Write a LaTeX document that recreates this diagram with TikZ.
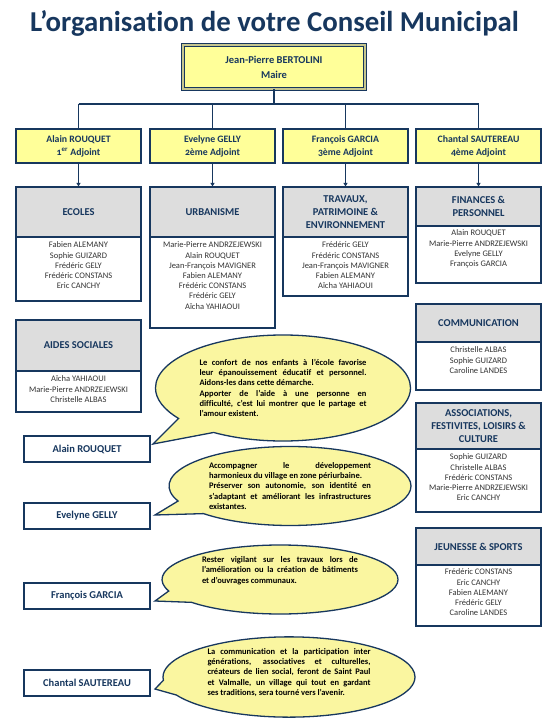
\documentclass[tikz,border=0pt]{standalone}
\usepackage{fontspec}
\setmainfont{Carlito}[Numbers=OldStyle, Ligatures={NoCommon,NoContextual}]
\usetikzlibrary{shapes.callouts,calc,arrows.meta}
\definecolor{navy}{HTML}{17375E}
\definecolor{hdr}{HTML}{DDDDDD}
\definecolor{yel}{HTML}{FFFF99}
\definecolor{cyel}{HTML}{FAF6A0}
\definecolor{txt}{HTML}{333333}
\hyphenpenalty=10000
\exhyphenpenalty=10000
\tikzset{
  every node/.style={inner sep=0pt, outer sep=0pt},
  mairebox/.style={draw=navy, line width=1pt, double=yel!55!gray, double distance=1.2pt, fill=yel,
    minimum width=182pt, minimum height=44pt, align=center,
    font=\bfseries\fontsize{10.5}{15}\selectfont, text=navy},
  adjbox/.style={draw=navy, line width=1.3pt, fill=yel, minimum width=125pt, minimum height=34pt,
    align=center, font=\bfseries\fontsize{9.8}{13}\selectfont, text=navy},
  hdrbox/.style={draw=navy, line width=1.3pt, fill=hdr, minimum width=125pt, align=center,
    font=\bfseries\fontsize{10.5}{13}\selectfont, text=navy, anchor=north west},
  bodybox/.style={draw=navy, line width=1.3pt, fill=white, minimum width=125pt, anchor=north west},
  members/.style={align=center, font=\fontsize{8.5}{10.2}\selectfont, text=txt, anchor=north},
  namebox/.style={draw=navy, line width=1.3pt, fill=white, minimum width=126pt, minimum height=26pt,
    anchor=north west, font=\bfseries\fontsize{10.5}{13}\selectfont, text=navy},
  bubble/.style={ellipse callout, draw=navy, line width=1.3pt, fill=cyel, callout pointer arc=22,
    align=justify, font=\bfseries\fontsize{8.5}{10.2}\selectfont, text=black},
  link/.style={draw=navy, line width=1.2pt},
  arr/.style={link, -{Latex[length=4pt,width=4.5pt]}},
}
\begin{document}
\begin{tikzpicture}[x=1pt,y=-1pt]
\fill[white] (0,0) rectangle (550,719);
\useasboundingbox (0,0) rectangle (550,719);

\node[anchor=base, font=\bfseries\fontsize{28.8}{32}\selectfont, text=navy] (title) at (274.5,32)
  {L’organisation de votre Conseil Municipal};

\node[mairebox] (maire) at (274,67) {Jean-Pierre BERTOLINI\\Maire};

\node[adjbox] (a1) at (78.5,146) {Alain ROUQUET\\1\textsuperscript{er} Adjoint};
\node[adjbox] (a2) at (212.5,146) {Evelyne GELLY\\2ème Adjoint};
\node[adjbox] (a3) at (345.5,146) {François GARCIA\\3ème Adjoint};
\node[adjbox] (a4) at (478.5,146) {Chantal SAUTEREAU\\4ème Adjoint};

\coordinate (busL) at ($(a1.north)+(0,-25)$);
\coordinate (busR) at ($(a4.north)+(0,-25)$);
\draw[link] (maire.south) -- (maire.south |- busL);
\draw[link] (busL) -- (busR);
\foreach \i in {1,...,4} {\draw[link] (a\i.north |- busL) -- (a\i.north);}

% commissions
\node[hdrbox, minimum height=50pt] (h1) at (16,187) {ECOLES};
\node[bodybox, minimum height=64pt] (b1) at (h1.south west) {};
\node[members] (m1) at ($(h1.south)+(0,5)$) {Fabien ALEMANY\\Sophie GUIZARD\\Frédéric GELY\\Frédéric CONSTANS\\Eric CANCHY};

\node[hdrbox, minimum height=50pt] (h2) at (150,187) {URBANISME};
\node[bodybox, minimum height=91pt] (b2) at (h2.south west) {};
\node[members] (m2) at ($(h2.south)+(0,5)$) {Marie-Pierre ANDRZEJEWSKI\\Alain ROUQUET\\Jean-François MAVIGNER\\Fabien ALEMANY\\Frédéric CONSTANS\\Frédéric GELY\\Aïcha YAHIAOUI};

\node[hdrbox, minimum height=50pt] (h3) at (283,187) {TRAVAUX,\\PATRIMOINE \&\\ENVIRONNEMENT};
\node[bodybox, minimum height=59pt] (b3) at (h3.south west) {};
\node[members] (m3) at ($(h3.south)+(0,5)$) {Frédéric GELY\\Frédéric CONSTANS\\Jean-François MAVIGNER\\Fabien ALEMANY\\Aïcha YAHIAOUI};

\node[hdrbox, minimum height=39pt] (h4) at (416,187) {FINANCES \&\\PERSONNEL};
\node[bodybox, minimum height=57pt] (b4) at (h4.south west) {};
\node[members] (m4) at ($(h4.south)+(0,4)$) {Alain ROUQUET\\Marie-Pierre ANDRZEJEWSKI\\Evelyne GELLY\\François GARCIA};

\foreach \i in {1,...,4} {\draw[arr] (a\i.south -| h\i.north) -- (h\i.north);}

\node[hdrbox, minimum height=51pt] (h5) at (16,320) {AIDES SOCIALES};
\node[bodybox, minimum height=41pt] (b5) at (h5.south west) {};
\node[members] (m5) at ($(h5.south)+(0,5)$) {Aïcha YAHIAOUI\\Marie-Pierre ANDRZEJEWSKI\\Christelle ALBAS};

\node[hdrbox, minimum height=38pt] (h6) at (416,304) {\raisebox{-4pt}{COMMUNICATION}};
\node[bodybox, minimum height=48pt] (b6) at (h6.south west) {};
\node[members] (m6) at ($(h6.south)+(0,5)$) {Christelle ALBAS\\Sophie GUIZARD\\Caroline LANDES};

\node[hdrbox, minimum height=46pt] (h7) at (416,403) {ASSOCIATIONS,\\FESTIVITES, LOISIRS \&\\CULTURE};
\node[bodybox, minimum height=63pt] (b7) at (h7.south west) {};
\node[members] (m7) at ($(h7.south)+(0,5)$) {Sophie GUIZARD\\Christelle ALBAS\\Frédéric CONSTANS\\Marie-Pierre ANDRZEJEWSKI\\Eric CANCHY};

\node[hdrbox, minimum height=37pt] (h8) at (416,528) {\raisebox{-5pt}{JEUNESSE \& SPORTS}};
\node[bodybox, minimum height=61pt] (b8) at (h8.south west) {};
\node[members] (m8) at ($(h8.south)+(0,4)$) {Frédéric CONSTANS\\Eric CANCHY\\Fabien ALEMANY\\Frédéric GELY\\Caroline LANDES};

% names
\node[namebox] (n1) at (24,436) {Alain ROUQUET};
\node[namebox] (n2) at (24,503) {Evelyne GELLY};
\node[namebox] (n3) at (24,583) {François GARCIA};
\node[namebox] (n4) at (24,670) {Chantal SAUTEREAU};

% callouts
\node[bubble, text width=167pt, minimum width=255pt, minimum height=106pt,
  callout absolute pointer={($(n1.north east)+(3,8)$)}] (c1) at (283,388)
  {Le confort de nos enfants à l’école favorise\linebreak
   leur épanouissement éducatif et personnel.\linebreak
   Aidons-les dans cette démarche.\par
   Apporter de l’aide à une personne en\linebreak
   difficulté, c’est lui montrer que le partage et\linebreak
   l’amour existent.};

\node[bubble, text width=162pt, minimum width=242pt, minimum height=79pt,
  callout absolute pointer={($(n2.east)+(5,-1)$)}] (c2) at (290,486)
  {Accompagner le développement\linebreak
   harmonieux du village en zone périurbaine.\par
   Préserver son autonomie, son identité en\linebreak
   s’adaptant et améliorant les infrastructures\linebreak
   existantes.};

\node[bubble, text width=156pt, minimum width=236pt, minimum height=69pt,
  callout absolute pointer={($(n3.east)+(5,5)$)}] (c3) at (280,579.5)
  {Rester vigilant sur les travaux lors de\linebreak
   l’amélioration ou la création de bâtiments\linebreak
   et d’ouvrages communaux.\rule[-19pt]{0pt}{19pt}};

\node[bubble, text width=163pt, minimum width=252pt, minimum height=72pt,
  callout absolute pointer={($(n4.east)+(5,6)$)}] (c4) at (289,677)
  {La communication et la participation inter\linebreak
   générations, associatives et culturelles,\linebreak
   créateurs de lien social, feront de Saint Paul\linebreak
   et Valmalle, un village qui tout en gardant\linebreak
   ses traditions, sera tourné vers l’avenir.\rule[-10pt]{0pt}{10pt}};
\end{tikzpicture}
\end{document}
